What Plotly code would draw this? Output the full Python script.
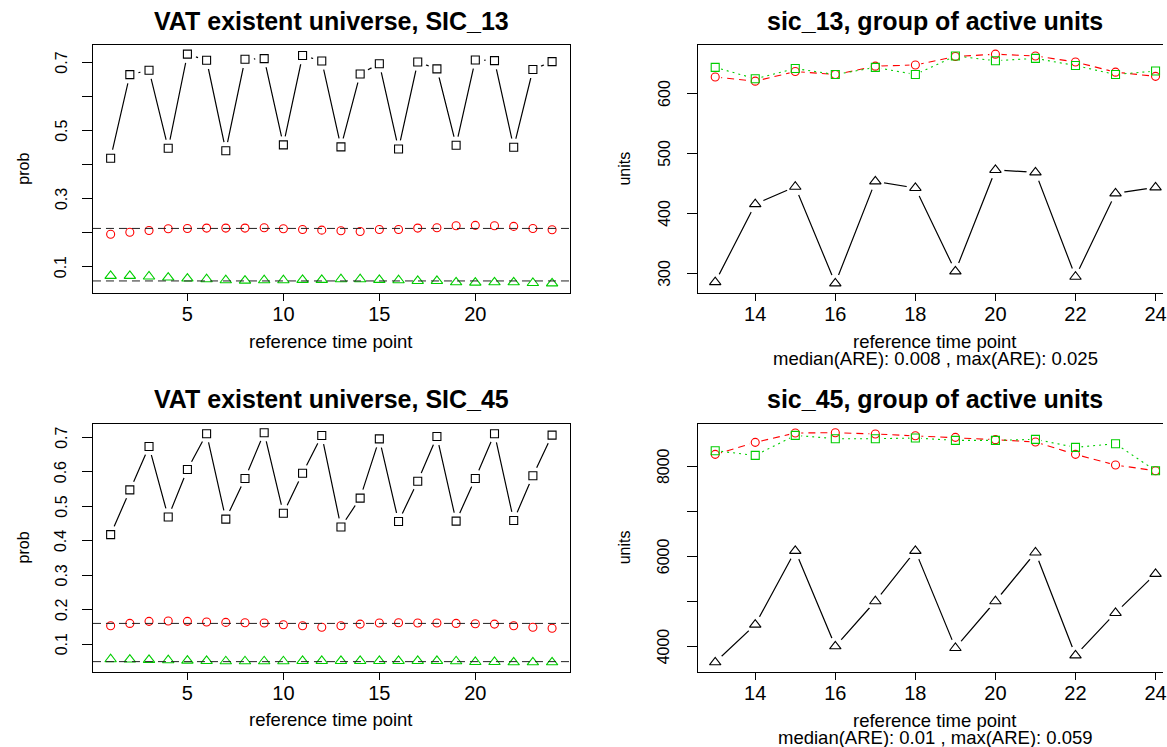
import plotly.graph_objects as go

# ---------------- data ----------------
x_left = list(range(1, 25))
x_right = list(range(13, 25))

tl_black = [0.419, 0.664, 0.677, 0.448, 0.724, 0.706, 0.441, 0.709, 0.711, 0.458, 0.720, 0.704,
            0.452, 0.666, 0.696, 0.446, 0.701, 0.681, 0.457, 0.707, 0.705, 0.451, 0.679, 0.702]
tl_red = [0.196, 0.202, 0.207, 0.212, 0.213, 0.214, 0.214, 0.214, 0.215, 0.212, 0.210, 0.208,
          0.206, 0.204, 0.210, 0.210, 0.214, 0.215, 0.221, 0.222, 0.221, 0.219, 0.213, 0.209]
tl_green = [0.074, 0.074, 0.072, 0.069, 0.066, 0.064, 0.061, 0.060, 0.061, 0.061, 0.062, 0.062,
            0.064, 0.064, 0.062, 0.061, 0.059, 0.059, 0.055, 0.054, 0.055, 0.055, 0.053, 0.052]
tl_ref = [0.213, 0.059]

tr_black = [285, 415, 444, 283, 453, 442, 303, 472, 468, 294, 433, 443]
tr_red = [627, 620, 636, 631, 645, 647, 661, 665, 662, 652, 635, 628]
tr_green = [643, 624, 641, 631, 643, 631, 662, 654, 658, 646, 631, 637]

bl_black = [0.418, 0.548, 0.674, 0.469, 0.607, 0.711, 0.463, 0.581, 0.714, 0.480, 0.596, 0.706,
            0.440, 0.524, 0.696, 0.456, 0.573, 0.703, 0.457, 0.581, 0.711, 0.459, 0.589, 0.707]
bl_red = [0.153, 0.160, 0.166, 0.167, 0.166, 0.164, 0.163, 0.162, 0.161, 0.156, 0.153, 0.149,
          0.153, 0.158, 0.161, 0.162, 0.161, 0.161, 0.160, 0.159, 0.158, 0.153, 0.149, 0.146]
bl_green = [0.056, 0.055, 0.054, 0.053, 0.052, 0.051, 0.050, 0.050, 0.050, 0.050, 0.051, 0.051,
            0.051, 0.051, 0.051, 0.051, 0.051, 0.051, 0.050, 0.048, 0.048, 0.047, 0.047, 0.047]
bl_ref = [0.160, 0.049]

br_black = [3652, 4489, 6126, 4007, 5007, 6126, 3970, 5007, 6089, 3807, 4748, 5615]
br_red = [8267, 8533, 8741, 8748, 8719, 8681, 8644, 8593, 8541, 8267, 8030, 7904]
br_green = [8348, 8244, 8689, 8615, 8615, 8630, 8578, 8578, 8600, 8422, 8504, 7904]

titles = ["VAT existent universe, SIC_13", "sic_13, group of active units",
          "VAT existent universe, SIC_45", "sic_45, group of active units"]
xlabel = "reference time point"
subtitles = ["median(ARE): 0.008 , max(ARE): 0.025", "median(ARE): 0.01 , max(ARE): 0.059"]

tl_yticks = [0.1, 0.2, 0.3, 0.4, 0.5, 0.6, 0.7]
tl_yticktext = ["0.1", "", "0.3", "", "0.5", "", "0.7"]
bl_yticks = [0.1, 0.2, 0.3, 0.4, 0.5, 0.6, 0.7]
bl_yticktext = ["0.1", "0.2", "0.3", "0.4", "0.5", "0.6", "0.7"]
tr_yticks = [300, 400, 500, 600]
tr_yticktext = ["300", "400", "500", "600"]
br_yticks = [4000, 5000, 6000, 7000, 8000]
br_yticktext = ["4000", "", "6000", "", "8000"]
left_xticks = [5, 10, 15, 20]
right_xticks = [14, 16, 18, 20, 22, 24]

# ---------------- styling ----------------
W, H = 1167, 747
BLACK, RED, GREEN = "#000000", "#FF0000", "#00CD00"
FONT = "Liberation Sans, Arial, Helvetica, sans-serif"


def fx(p):
    return p / W


def fy(p):
    return 1 - p / H


def rrange(vals):
    lo, hi = min(vals), max(vals)
    pad = 0.04 * (hi - lo)
    return [lo - pad, hi + pad]


fig = go.Figure()

# panel geometry in window pixels
L_X = (93.3, 571.7)
R_X = (700.0, 1177.2)   # full box of right panels extends past the window edge
TOP_Y = (45.0, 292.5)
BOT_Y = (423.5, 671.5)

panels = [
    dict(n=1, xs=x_left, xpx=L_X, ypx=TOP_Y, right=False,
         black=tl_black, red=tl_red, green=tl_green, ref=tl_ref,
         yt=tl_yticks, ytt=tl_yticktext, xt=left_xticks, ylab="prob"),
    dict(n=2, xs=x_right, xpx=R_X, ypx=TOP_Y, right=True,
         black=tr_black, red=tr_red, green=tr_green, ref=None,
         yt=tr_yticks, ytt=tr_yticktext, xt=right_xticks, ylab="units"),
    dict(n=3, xs=x_left, xpx=L_X, ypx=BOT_Y, right=False,
         black=bl_black, red=bl_red, green=bl_green, ref=bl_ref,
         yt=bl_yticks, ytt=bl_yticktext, xt=left_xticks, ylab="prob"),
    dict(n=4, xs=x_right, xpx=R_X, ypx=BOT_Y, right=True,
         black=br_black, red=br_red, green=br_green, ref=None,
         yt=br_yticks, ytt=br_yticktext, xt=right_xticks, ylab="units"),
]

shapes = []
annotations = []
TXT = 18.5

for p in panels:
    n = p["n"]
    xa = "x" if n == 1 else f"x{n}"
    ya = "y" if n == 1 else f"y{n}"
    xs = p["xs"]
    if p["right"]:
        blk_sym, red_sym, grn_sym = "triangle-up-open", "circle-open", "square-open"
        blk_size, red_size, grn_size = 10, 8, 8
    else:
        blk_sym, red_sym, grn_sym = "square-open", "circle-open", "triangle-up-open"
        blk_size, red_size, grn_size = 8, 8, 10

    # connecting lines
    fig.add_trace(go.Scatter(x=xs, y=p["black"], mode="lines", xaxis=xa, yaxis=ya,
                             line=dict(color=BLACK, width=1.2), hoverinfo="skip"))
    if p["right"]:
        fig.add_trace(go.Scatter(x=xs, y=p["red"], mode="lines", xaxis=xa, yaxis=ya,
                                 line=dict(color=RED, width=1.1, dash="7px,5px"), hoverinfo="skip"))
        fig.add_trace(go.Scatter(x=xs, y=p["green"], mode="lines", xaxis=xa, yaxis=ya,
                                 line=dict(color=GREEN, width=1.1, dash="2px,4px"), hoverinfo="skip"))
    # gaps around points (R type = "b")
    fig.add_trace(go.Scatter(x=xs, y=p["black"], mode="markers", xaxis=xa, yaxis=ya,
                             marker=dict(symbol="circle", size=18, color="white", line=dict(width=0)),
                             hoverinfo="skip"))
    if p["right"]:
        for ser in (p["red"], p["green"]):
            fig.add_trace(go.Scatter(x=xs, y=ser, mode="markers", xaxis=xa, yaxis=ya,
                                     marker=dict(symbol="circle", size=12, color="white", line=dict(width=0)),
                                     hoverinfo="skip"))
    # markers
    fig.add_trace(go.Scatter(x=xs, y=p["black"], mode="markers", xaxis=xa, yaxis=ya,
                             marker=dict(symbol=blk_sym, size=blk_size, color=BLACK, line=dict(width=1.1, color=BLACK))))
    fig.add_trace(go.Scatter(x=xs, y=p["red"], mode="markers", xaxis=xa, yaxis=ya,
                             marker=dict(symbol=red_sym, size=red_size, color=RED, line=dict(width=1.1, color=RED))))
    fig.add_trace(go.Scatter(x=xs, y=p["green"], mode="markers", xaxis=xa, yaxis=ya,
                             marker=dict(symbol=grn_sym, size=grn_size, color=GREEN, line=dict(width=1.1, color=GREEN))))

    # reference lines
    if p["ref"]:
        for v in p["ref"]:
            shapes.append(dict(type="line", xref=f"{xa} domain", yref=ya, x0=0, x1=1, y0=v, y1=v,
                               line=dict(color="#222222", width=1, dash="8px,5px"), layer="above"))

    # axes
    allv = p["black"] + p["red"] + p["green"]
    yr = rrange(allv)
    xr_full = rrange(xs)
    x0px, x1px = p["xpx"]
    if x1px > W:
        frac = (W - x0px) / (x1px - x0px)
        xr = [xr_full[0], xr_full[0] + frac * (xr_full[1] - xr_full[0])]
        xdom = [fx(x0px), 1.0]
    else:
        xr = xr_full
        xdom = [fx(x0px), fx(x1px)]
    y0px, y1px = p["ypx"]
    ydom = [fy(y1px), fy(y0px)]

    xkey = "xaxis" if n == 1 else f"xaxis{n}"
    ykey = "yaxis" if n == 1 else f"yaxis{n}"
    fig.update_layout(**{
        xkey: dict(domain=xdom, range=xr, anchor=ya, tickmode="array", tickvals=p["xt"],
                   ticks="outside", ticklen=7, tickwidth=1, tickcolor=BLACK,
                   showline=True, linecolor=BLACK, linewidth=1, mirror=True,
                   showgrid=False, zeroline=False, ticklabelstandoff=-4,
                   ticklabeloverflow="allow",
                   tickfont=dict(family=FONT, size=20, color=BLACK)),
        ykey: dict(domain=ydom, range=yr, anchor=xa, tickmode="array", tickvals=p["yt"],
                   showticklabels=False,
                   ticks="outside", ticklen=10, tickwidth=1, tickcolor=BLACK,
                   showline=True, linecolor=BLACK, linewidth=1, mirror=not p["right"],
                   showgrid=False, zeroline=False),
    })

    # rotated y tick labels (R style, parallel to the axis)
    lab_x = 61.5 if not p["right"] else 666
    for v, t in zip(p["yt"], p["ytt"]):
        if t:
            annotations.append(dict(text=t, x=fx(lab_x), y=v, xref="paper", yref=ya,
                                    showarrow=False, textangle=-90, xanchor="center", yanchor="middle",
                                    font=dict(family=FONT, size=16, color=BLACK)))

    # texts
    cx = (x0px + x1px) / 2
    top_off = y0px - 45.0
    annotations.append(dict(text=f"<b>{titles[n-1]}</b>", x=fx(cx), y=fy(20.5 + top_off),
                            xref="paper", yref="paper", showarrow=False, xanchor="center", yanchor="middle",
                            font=dict(family=FONT, size=25, color=BLACK)))
    ylab_x = 24 if not p["right"] else 627
    annotations.append(dict(text=p["ylab"], x=fx(ylab_x), y=fy((y0px + y1px) / 2),
                            xref="paper", yref="paper", showarrow=False, textangle=-90,
                            xanchor="center", yanchor="middle",
                            font=dict(family=FONT, size=16, color=BLACK)))
    if p["right"]:
        annotations.append(dict(text=xlabel, x=fx(cx), y=fy(342 + top_off),
                                xref="paper", yref="paper", showarrow=False, xanchor="center", yanchor="middle",
                                font=dict(family=FONT, size=TXT, color=BLACK)))
        annotations.append(dict(text=subtitles[0 if n == 2 else 1], x=fx(cx), y=fy(358.5 + top_off),
                                xref="paper", yref="paper", showarrow=False, xanchor="center", yanchor="middle",
                                font=dict(family=FONT, size=TXT, color=BLACK)))
    else:
        annotations.append(dict(text=xlabel, x=fx(cx), y=fy(341 + top_off),
                                xref="paper", yref="paper", showarrow=False, xanchor="center", yanchor="middle",
                                font=dict(family=FONT, size=TXT, color=BLACK)))

fig.update_layout(
    width=W, height=H, margin=dict(l=0, r=0, t=0, b=0),
    paper_bgcolor="white", plot_bgcolor="white",
    showlegend=False, shapes=shapes, annotations=annotations,
    font=dict(family=FONT, color=BLACK),
)

fig.write_html("out.html", config={"displayModeBar": False},
               post_script="document.body.style.margin='0';document.body.style.overflow='hidden';")
